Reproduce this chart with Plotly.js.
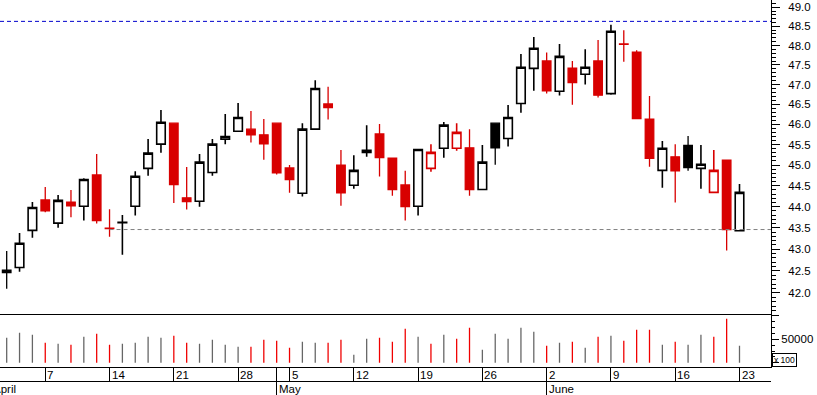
<!DOCTYPE html>
<html><head><meta charset="utf-8">
<script src="https://cdn.plot.ly/plotly-3.0.1.min.js"></script>
<style>html,body{margin:0;padding:0;background:#fff;}#chart{width:817px;height:395px;}</style>
</head><body><div id="chart"></div>
<script>
const opens = [42.52,42.58,43.44,44.16,43.61,44.11,44.01,44.76,43.49,43.62,
44.01,44.92,45.51,46.03,44.21,44.13,44.82,45.63,45.83,45.88,
45.74,46.03,44.93,44.32,45.88,46.51,45.00,44.51,45.31,45.76,
45.17,44.52,44.01,44.92,45.41,45.41,45.42,44.41,46.03,45.65,
46.52,47.41,47.60,46.83,47.42,47.26,47.60,46.77,48.04,47.83,
46.13,44.87,45.20,45.48,44.92,44.34,45.12,43.43];
const highs = [42.96,43.38,44.11,44.47,44.28,44.40,44.68,45.27,43.94,43.80,
44.85,45.64,46.36,46.03,44.95,45.27,45.64,46.26,46.53,46.33,
46.13,46.03,45.00,46.03,47.11,46.94,45.37,45.24,45.98,46.01,
45.17,44.86,45.38,45.51,46.06,46.03,45.88,45.49,46.03,46.48,
47.78,48.22,47.82,48.04,47.60,47.90,48.14,48.54,48.40,47.88,
46.71,45.59,45.51,45.71,45.49,45.37,45.12,44.54];
const lows = [42.09,42.48,43.27,43.87,43.50,43.75,43.67,43.60,43.29,42.87,
43.79,44.74,45.30,44.09,43.93,44.00,44.74,45.51,45.83,45.55,
45.13,44.77,44.33,44.24,45.88,46.12,44.02,44.43,45.20,44.72,
44.26,43.67,43.79,44.84,45.18,45.35,44.26,44.40,45.01,45.45,
46.29,46.84,46.77,46.72,46.49,47.00,46.67,46.74,47.58,46.14,
44.96,44.45,44.10,44.86,44.43,44.34,42.97,43.43];
const closes = [42.46,43.14,43.98,43.90,44.15,44.02,44.65,43.67,43.48,43.63,
44.73,45.29,46.05,44.53,44.12,45.07,45.51,45.70,46.17,45.74,
45.52,44.81,44.65,45.88,46.90,46.42,44.33,44.87,45.36,45.18,
44.41,44.00,45.38,45.31,45.98,45.80,44.41,45.07,45.42,46.17,
47.44,47.93,46.84,47.72,47.05,47.44,46.73,48.37,48.03,46.14,
45.16,45.41,44.86,44.94,45.02,44.87,43.46,44.34];
const volumes = [53400,64100,59800,42700,40600,38500,55600,62000,38500,40600,
42700,55600,53400,57700,42700,40600,49100,38500,34200,34200,
49100,47000,32000,44900,42700,42700,49100,17100,51300,53400,
44900,72600,55600,40600,59800,51300,74800,27800,62000,51300,
74800,66200,36300,42700,44900,32000,55600,57700,47000,70500,
70500,38500,44900,38500,59800,55600,94000,36300];

const dayTickIdx = [3,8,13,18,22,27,32,37,42,47,52,57];
const dayTickLabels = ['7','14','21','28','5','12','19','26','2','9','16','23'];
const monthStartIdx = [21,42];
const monthLabels = ['May','June'];
const firstMonthLabel = 'April';
const priceTicks = [42,42.5,43,43.5,44,44.5,45,45.5,46,46.5,47,47.5,48,48.5,49];
const volumeTicks = [0,50000,100000];
const volumeTickLabels = ['','50000',''];
const resistanceLevel = 48.63;
const supportLevel = 43.46;
const supportStartIdx = 8;

const xRange = [-0.52, 59.45];
const idx = closes.map((_, i) => i);
const black = closes.map((c, i) => i === 0 || c >= closes[i - 1]);
const hollow = closes.map((c, i) => c > opens[i]);
const groupA = idx.filter(i => hollow[i] === black[i]);
const groupB = idx.filter(i => hollow[i] !== black[i]);
const pick = (arr, g) => g.map(i => arr[i]);

const CANDLE_RED = '#d80000';
const VOL_RED = '#f00000';
const VOL_GREY = '#666666';

function candleTrace(g, incColor, incFill, decColor, decFill) {
  return {
    type: 'candlestick', x: g,
    open: pick(opens, g), high: pick(highs, g), low: pick(lows, g), close: pick(closes, g),
    xaxis: 'x', yaxis: 'y', whiskerwidth: 0, hoverinfo: 'skip', showlegend: false,
    increasing: {line: {color: incColor, width: 1.6}, fillcolor: incFill},
    decreasing: {line: {color: decColor, width: 1.3}, fillcolor: decFill}
  };
}

const traces = [
  {type: 'scatter', mode: 'lines', x: [xRange[0], xRange[1]], y: [resistanceLevel, resistanceLevel],
   xaxis: 'x', yaxis: 'y', line: {color: '#0000cc', width: 1, dash: '4px,3px'}, hoverinfo: 'skip', showlegend: false},
  {type: 'scatter', mode: 'lines', x: [supportStartIdx, xRange[1]], y: [supportLevel, supportLevel],
   xaxis: 'x', yaxis: 'y', line: {color: '#808080', width: 1, dash: '4px,3px'}, hoverinfo: 'skip', showlegend: false},
  candleTrace(groupA, '#000000', '#ffffff', CANDLE_RED, CANDLE_RED),
  candleTrace(groupB, CANDLE_RED, '#ffffff', '#000000', '#000000'),
  {type: 'bar', x: idx, y: volumes, xaxis: 'x2', yaxis: 'y2', width: 0.1,
   marker: {color: idx.map(i => (i > 0 && closes[i] < closes[i - 1]) ? VOL_RED : VOL_GREY), line: {width: 0}},
   hoverinfo: 'skip', showlegend: false}
];

const labelFont = {family: 'Liberation Sans, Arial, sans-serif', size: 11.5, color: '#000'};
const annotations = [];
dayTickIdx.forEach((xi, k) => annotations.push({xref: 'x3', yref: 'y3', x: xi, y: 0.45, text: dayTickLabels[k],
  showarrow: false, xanchor: 'left', yanchor: 'middle', xshift: 1, borderpad: 0, font: labelFont}));
monthStartIdx.forEach((xi, k) => annotations.push({xref: 'x4', yref: 'y4', x: xi, y: 0.45, text: monthLabels[k],
  showarrow: false, xanchor: 'left', yanchor: 'middle', xshift: 1, borderpad: 0, font: labelFont}));
annotations.push({xref: 'paper', yref: 'y4', x: 0, y: 0.45, text: firstMonthLabel, showarrow: false,
  xanchor: 'left', yanchor: 'middle', xshift: -8, borderpad: 0, font: labelFont});
annotations.push({xref: 'paper', yref: 'paper', x: 1, y: 0.0717, text: 'x 100', showarrow: false,
  xanchor: 'left', yanchor: 'bottom', xshift: 1, borderpad: 1, bordercolor: '#000', borderwidth: 1,
  font: {family: 'Liberation Sans, Arial, sans-serif', size: 8.5, color: '#000'}});

const layout = {
  width: 817, height: 395, margin: {l: 0, r: 46, t: 0, b: 0},
  paper_bgcolor: '#ffffff', plot_bgcolor: '#ffffff', showlegend: false,
  boxgap: 0.3, boxgroupgap: 0.05,
  font: labelFont,
  xaxis: {domain: [0, 1], range: xRange, anchor: 'y', showticklabels: false, showgrid: false, zeroline: false,
          showline: false, ticks: '', rangeslider: {visible: false}},
  yaxis: {domain: [0.2025, 1], type: 'log', range: [Math.log10(41.5), Math.log10(49.194)], side: 'right', anchor: 'x',
          showline: true, linecolor: '#000', linewidth: 1, ticks: 'outside', ticklen: 8, tickwidth: 1, tickcolor: '#000',
          tickmode: 'array', tickvals: priceTicks, tickformat: '.1f', ticklabelstandoff: 6,
          minor: {tickmode: 'linear', tick0: 0, dtick: 'L0.1', ticks: 'outside', ticklen: 4, tickwidth: 1, tickcolor: '#000', showgrid: false},
          showgrid: false, zeroline: false, tickfont: labelFont},
  xaxis2: {domain: [0, 1], range: xRange, anchor: 'y2', showline: true, mirror: true, linecolor: '#000', linewidth: 1,
           ticks: '', showticklabels: false, showgrid: false, zeroline: false},
  yaxis2: {domain: [0.07165, 0.20253], range: [-8547, 101923], side: 'right', anchor: 'x2', showline: true, linecolor: '#000',
           ticks: 'outside', ticklen: 7, tickwidth: 1, tickcolor: '#000', tickmode: 'array', tickvals: volumeTicks, ticktext: volumeTickLabels,
           minor: {tickmode: 'linear', tick0: 0, dtick: 12500, ticks: 'outside', ticklen: 3, tickwidth: 1, tickcolor: '#000', showgrid: false},
           showgrid: false, zeroline: false, tickfont: labelFont},
  xaxis3: {domain: [0, 1], range: xRange, anchor: 'y3', showline: true, linecolor: '#000', linewidth: 1, ticks: '',
           showticklabels: false, showgrid: true, gridcolor: '#000', gridwidth: 1, tickmode: 'array',
           tickvals: dayTickIdx.concat(monthStartIdx), zeroline: false},
  yaxis3: {domain: [0.03544, 0.07165], range: [0, 1], visible: false, fixedrange: true},
  xaxis4: {domain: [0, 1], range: xRange, anchor: 'y4', showline: false, ticks: '', showticklabels: false,
           showgrid: true, gridcolor: '#000', gridwidth: 1, tickmode: 'array', tickvals: monthStartIdx, zeroline: false},
  yaxis4: {domain: [0, 0.03544], range: [0, 1], visible: false, fixedrange: true},
  annotations: annotations
};

Plotly.newPlot('chart', traces, layout, {staticPlot: true, displayModeBar: false});
</script>
</body></html>
